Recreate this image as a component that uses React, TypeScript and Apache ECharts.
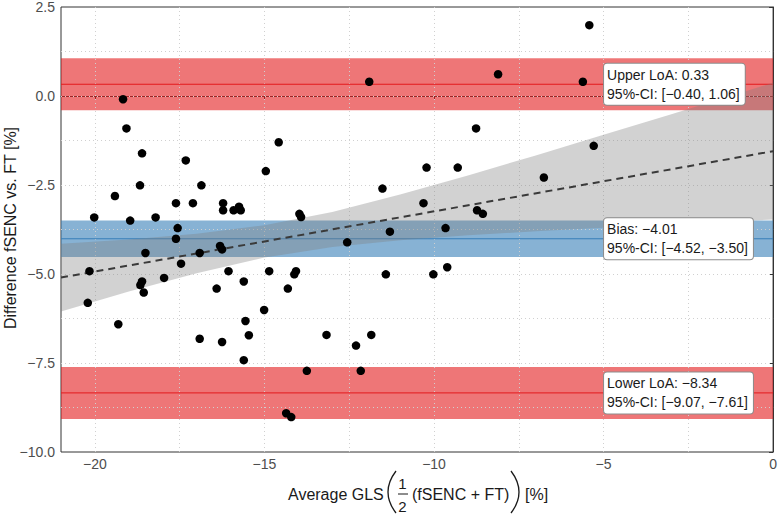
import React, { useEffect, useRef } from 'react';
import * as echarts from 'echarts';

// Scatter points (average GLS, difference)
const pointsX = [
  -19.17, -19.07, -18.61, -17.32, -14.58, -14.96, -18.67, -16.86, -19.41, -17.61,
  -17.11, -16.22, -16.22, -15.91, -15.75, -15.70, -13.97, -20.02, -18.96, -18.21,
  -17.56, -17.61, -18.51, -16.91, -16.31, -16.25, -17.46, -20.16, -16.06, -14.86,
  -14.07, -14.12, -17.96, -18.61, -18.66, -15.61, -18.56, -16.41, -14.31, -20.21,
  -15.01, -19.31, -15.56, -15.46, -16.91, -16.25, -15.61,
  -11.52, -10.31, -13.92, -8.73, -8.56, -9.66, -11.30, -12.56, -11.42, -10.02,
  -9.61, -13.17, -12.30, -11.85, -13.75, -12.16,
  -14.36, -14.21,
  -11.91, -8.11, -8.76, -10.22, -9.30,
  -5.42, -5.61, -5.29, -6.76,
];
const pointsY = [
  -0.09, -0.91, -1.61, -1.81, -1.30, -2.11, -2.51, -2.51, -2.81, -3.01,
  -3.01, -3.01, -3.21, -3.21, -3.11, -3.21, -3.31, -3.41, -3.50, -3.41,
  -3.71, -4.01, -4.41, -4.41, -4.21, -4.31, -4.71, -4.92, -4.92, -4.92,
  -4.92, -5.01, -5.11, -5.21, -5.31, -5.21, -5.52, -5.41, -5.41, -5.81,
  -6.01, -6.41, -6.32, -6.72, -6.82, -6.91, -7.42,
  -2.60, -3.01, -3.40, -3.21, -3.31, -3.71, -3.81, -4.11, -5.01, -5.01,
  -4.81, -6.71, -7.01, -6.71, -7.72, -7.72,
  -8.91, -9.02,
  0.40, 0.61, -0.91, -2.01, -2.01,
  1.99, 0.40, -1.40, -2.29,
];

// Limits of agreement
const loaNames = ['Upper LoA', 'Bias', 'Lower LoA'];
const loaValues = [0.33, -4.01, -8.34];
const loaCiLow = [-0.40, -4.52, -9.07];
const loaCiHigh = [1.06, -3.50, -7.61];
const labelX = -5;

// Regression line and its confidence band
const regX = [-21, 0];
const regY = [-5.10, -1.55];
const bandX = [-21, -19, -17, -15, -13, -11, -9, -7, -5, -3, -1, 0];
const bandUpper = [-4.15, -4.03, -3.87, -3.63, -3.26, -2.77, -2.23, -1.67, -1.09, -0.51, 0.08, 0.37];
const bandLower = [-6.05, -5.49, -4.98, -4.54, -4.24, -4.05, -3.91, -3.80, -3.70, -3.60, -3.51, -3.47];

// Axis ticks / grid
const xTicks = [-20, -15, -10, -5, 0];
const xGrid = [-20, -17.5, -15, -12.5, -10, -7.5, -5, -2.5];
const yGrid = [-8.75, -7.5, -6.25, -5, -3.75, -2.5, -1.25, 0, 1.25];

const FONT = '"Liberation Sans", Arial, Helvetica, sans-serif';
const fmt = (v: number, d: number) => (v < 0 ? '\u2212' : '') + Math.abs(v).toFixed(d);

export default function App() {
  const ref = useRef<HTMLDivElement>(null);
  useEffect(() => {
    if (!ref.current) return;
    const chart = echarts.init(ref.current, undefined, { renderer: 'svg' });
    const red = '#e31a1c';
    const blue = '#377eb8';
    const redFill = 'rgba(227,26,28,0.6)';
    const blueFill = 'rgba(55,126,184,0.6)';

    const loaSeries = loaValues.map((v, i) => ({
      type: 'line',
      z: 2,
      silent: true,
      symbol: 'none',
      data: [[-21, v], [0, v]],
      lineStyle: { color: i === 1 ? blue : red, width: 1 },
      markArea: {
        silent: true,
        itemStyle: { color: i === 1 ? blueFill : redFill },
        data: [[{ xAxis: -21, yAxis: loaCiLow[i] }, { xAxis: 0, yAxis: loaCiHigh[i] }]],
      },
    }));

    const option: any = {
      animation: false,
      grid: { left: 61, right: 5, top: 6, bottom: 65, show: true, borderColor: '#333', borderWidth: 1 },
      xAxis: {
        type: 'value', min: -21, max: 0,
        axisLine: { show: true, lineStyle: { color: '#333', width: 1 } },
        axisTick: { show: true, length: 4, lineStyle: { color: '#333' }, customValues: xTicks },
        axisLabel: {
          customValues: xTicks, color: '#4d4d4d', fontSize: 14, fontFamily: FONT, margin: 5,
          formatter: (v: number) => fmt(v, 0),
        },
        splitLine: { show: false },
      },
      yAxis: {
        type: 'value', min: -10, max: 2.5, interval: 2.5,
        axisLine: { show: true, lineStyle: { color: '#333', width: 1 } },
        axisTick: { show: true, length: 4, lineStyle: { color: '#333' } },
        axisLabel: { color: '#4d4d4d', fontSize: 14, fontFamily: FONT, margin: 6, formatter: (v: number) => fmt(v, 1) },
        splitLine: { show: false },
      },
      series: [
        {
          type: 'line', data: [], z: 1, silent: true,
          markLine: {
            silent: true, symbol: ['none', 'none'], z: 1,
            label: { show: false },
            lineStyle: { color: '#d0d0d0', type: [1, 3], width: 1 },
            data: [...xGrid.map((x) => ({ xAxis: x })), ...yGrid.map((y) => ({ yAxis: y }))],
          },
        },
        ...loaSeries,
        {
          type: 'custom', z: 3, silent: true,
          data: bandX.map((x, i) => [x, bandLower[i], bandUpper[i]]),
          encode: { x: 0, y: [1, 2] },
          renderItem: (params: any, api: any) => {
            if (params.dataIndex !== 0) return null;
            const up = bandX.map((x, i) => api.coord([x, bandUpper[i]]));
            const lo = bandX.map((x, i) => api.coord([x, bandLower[i]])).reverse();
            return { type: 'polygon', shape: { points: up.concat(lo) }, style: { fill: 'rgba(127,127,127,0.35)' } };
          },
        },
        {
          type: 'line', z: 4, silent: true, symbol: 'none',
          data: regX.map((x, i) => [x, regY[i]]),
          lineStyle: { color: '#3a3a3a', width: 2, type: [7, 5] },
        },
        {
          type: 'scatter', z: 5, silent: true, symbolSize: 8.5,
          itemStyle: { color: '#000', opacity: 1 },
          data: pointsX.map((x, i) => [x, pointsY[i]]),
        },
        {
          type: 'scatter', z: 6, silent: true, symbolSize: 1,
          itemStyle: { color: 'rgba(0,0,0,0)', opacity: 1 },
          data: loaValues.map((v) => [labelX, v]),
          label: {
            show: true, position: 'right', distance: 0, opacity: 1,
            formatter: (p: any) => {
              const i = p.dataIndex;
              return `${loaNames[i]}: ${fmt(loaValues[i], 2)}\n95%-CI: [${fmt(loaCiLow[i], 2)}, ${fmt(loaCiHigh[i], 2)}]`;
            },
            color: '#1a1a1a', fontSize: 14, fontFamily: FONT, lineHeight: 19,
            backgroundColor: '#ffffff', borderColor: '#8c8c8c', borderWidth: 1, borderRadius: 3,
            padding: [2, 5, 1, 3], align: 'left', verticalAlign: 'middle',
          },
        },
      ],
      graphic: [
        {
          type: 'text', x: 10, y: 228, rotation: Math.PI / 2,
          style: { text: 'Difference fSENC vs. FT [%]', fill: '#1a1a1a', font: `16px ${FONT}`, textAlign: 'center', textVerticalAlign: 'middle' },
        },
        { type: 'text', x: 288, y: 494, style: { text: 'Average GLS', fill: '#1a1a1a', font: `16px ${FONT}`, textAlign: 'left', textVerticalAlign: 'middle' } },
        { type: 'bezierCurve', shape: { x1: 396, y1: 471, x2: 396, y2: 513, cpx1: 380, cpy1: 492 }, style: { stroke: '#1a1a1a', lineWidth: 1.3, fill: null } },
        { type: 'text', x: 402.5, y: 483, style: { text: '1', fill: '#1a1a1a', font: `15px ${FONT}`, textAlign: 'center', textVerticalAlign: 'middle' } },
        { type: 'line', shape: { x1: 398, y1: 494, x2: 408, y2: 494 }, style: { stroke: '#1a1a1a', lineWidth: 1 } },
        { type: 'text', x: 402.5, y: 506, style: { text: '2', fill: '#1a1a1a', font: `15px ${FONT}`, textAlign: 'center', textVerticalAlign: 'middle' } },
        { type: 'text', x: 412, y: 494, style: { text: '(fSENC + FT)', fill: '#1a1a1a', font: `16px ${FONT}`, textAlign: 'left', textVerticalAlign: 'middle' } },
        { type: 'bezierCurve', shape: { x1: 511, y1: 471, x2: 511, y2: 513, cpx1: 527, cpy1: 492 }, style: { stroke: '#1a1a1a', lineWidth: 1.3, fill: null } },
        { type: 'text', x: 525, y: 494, style: { text: '[%]', fill: '#1a1a1a', font: `16px ${FONT}`, textAlign: 'left', textVerticalAlign: 'middle' } },
      ],
    };
    chart.setOption(option);
    return () => chart.dispose();
  }, []);
  return <div ref={ref} style={{ position: 'absolute', left: 0, top: 0, width: 780, height: 517 }} />;
}
